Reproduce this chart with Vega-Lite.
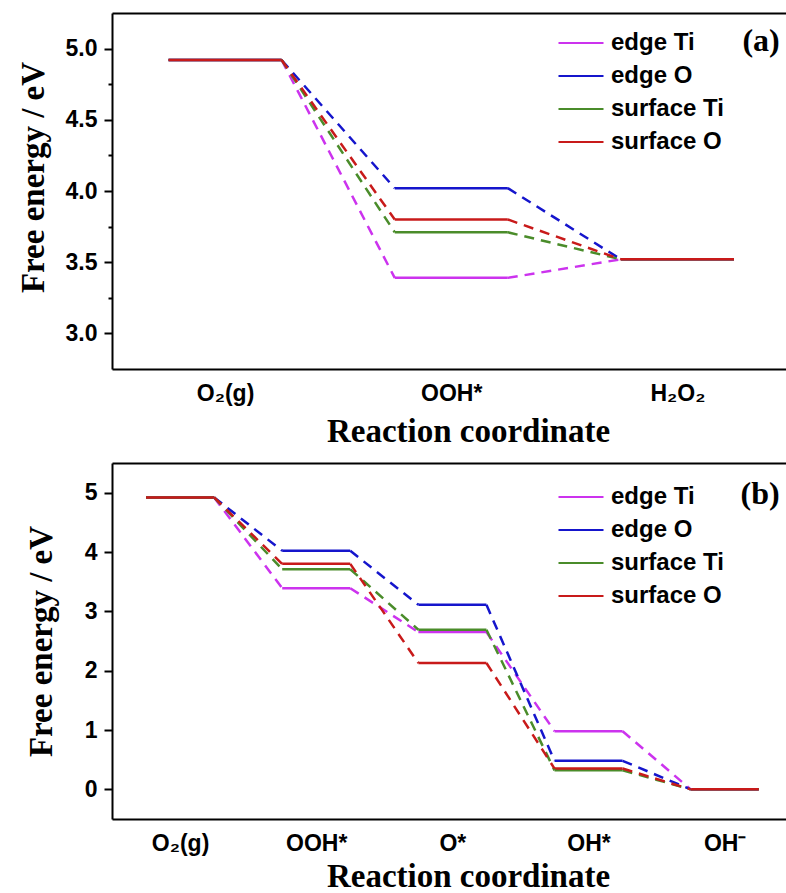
{
  "$schema": "https://vega.github.io/schema/vega-lite/v6.json",
  "padding": {"left": 17, "top": 13, "right": 0, "bottom": 0},
  "spacing": 15,
  "background": "white",
  "config": {
    "view": {"stroke": null},
    "axis": {
      "domainColor": "black", "domainWidth": 2, "tickColor": "black", "tickWidth": 2,
      "labelColor": "black", "labelFont": "Liberation Sans", "labelFontWeight": "bold", "labelFontSize": 23,
      "titleFont": "Liberation Serif", "titleFontWeight": "bold", "titleFontSize": 33, "titleColor": "black",
      "grid": false
    },
    "legend": {
      "orient": "none", "title": null, "padding": 0,
      "symbolType": "M-2.5,0H2.5", "symbolSize": 324, "symbolStrokeWidth": 2,
      "labelFont": "Liberation Sans", "labelFontWeight": "bold", "labelFontSize": 24, "labelColor": "black",
      "labelOffset": 18, "rowPadding": 9
    }
  },
  "resolve": {"scale": {"color": "independent"}, "legend": {"color": "independent"}},
  "datasets": {
    "a": [
      {"series": "edge Ti", "step": 1, "energy": 4.92},
      {"series": "edge Ti", "step": 2, "energy": 3.39},
      {"series": "edge Ti", "step": 3, "energy": 3.52},
      {"series": "edge O", "step": 1, "energy": 4.92},
      {"series": "edge O", "step": 2, "energy": 4.02},
      {"series": "edge O", "step": 3, "energy": 3.52},
      {"series": "surface Ti", "step": 1, "energy": 4.92},
      {"series": "surface Ti", "step": 2, "energy": 3.71},
      {"series": "surface Ti", "step": 3, "energy": 3.52},
      {"series": "surface O", "step": 1, "energy": 4.92},
      {"series": "surface O", "step": 2, "energy": 3.80},
      {"series": "surface O", "step": 3, "energy": 3.52}
    ],
    "b": [
      {"series": "edge Ti", "step": 1, "energy": 4.92},
      {"series": "edge Ti", "step": 2, "energy": 3.39},
      {"series": "edge Ti", "step": 3, "energy": 2.65},
      {"series": "edge Ti", "step": 4, "energy": 0.98},
      {"series": "edge Ti", "step": 5, "energy": 0},
      {"series": "edge O", "step": 1, "energy": 4.92},
      {"series": "edge O", "step": 2, "energy": 4.02},
      {"series": "edge O", "step": 3, "energy": 3.11},
      {"series": "edge O", "step": 4, "energy": 0.48},
      {"series": "edge O", "step": 5, "energy": 0},
      {"series": "surface Ti", "step": 1, "energy": 4.92},
      {"series": "surface Ti", "step": 2, "energy": 3.71},
      {"series": "surface Ti", "step": 3, "energy": 2.69},
      {"series": "surface Ti", "step": 4, "energy": 0.32},
      {"series": "surface Ti", "step": 5, "energy": 0},
      {"series": "surface O", "step": 1, "energy": 4.92},
      {"series": "surface O", "step": 2, "energy": 3.80},
      {"series": "surface O", "step": 3, "energy": 2.13},
      {"series": "surface O", "step": 4, "energy": 0.35},
      {"series": "surface O", "step": 5, "energy": 0}
    ],
    "tagA": [{"label": "(a)"}],
    "tagB": [{"label": "(b)"}]
  },
  "vconcat": [
    {
      "width": 674, "height": 356,
      "resolve": {"axis": {"x": "independent"}},
      "layer": [
        {
          "data": {"name": "a"},
          "transform": [
            {"calculate": "datum.step - 0.25", "as": "xs"},
            {"calculate": "datum.step + 0.25", "as": "xe"}
          ],
          "mark": {"type": "rule", "strokeWidth": 2.5},
          "encoding": {
            "x": {"field": "xs", "type": "quantitative",
              "scale": {"domain": [0.5, 3.48], "nice": false, "zero": false},
              "axis": {"orient": "bottom", "values": [1, 2, 3],
                "labelExpr": "['', 'O₂(g)', 'OOH*', 'H₂O₂'][datum.value]",
                "ticks": false, "labelPadding": 13,
                "title": "Reaction coordinate", "titlePadding": 10, "titleX": 356}},
            "x2": {"field": "xe"},
            "y": {"field": "energy", "type": "quantitative",
              "scale": {"domain": [2.75, 5.25], "nice": false, "zero": false},
              "axis": {"values": [3, 3.25, 3.5, 3.75, 4, 4.25, 4.5, 4.75, 5],
                "labelExpr": "datum.value % 0.5 == 0 ? format(datum.value, '.1f') : ''",
                "tickSize": {"condition": {"test": "datum.value % 0.5 == 0", "value": 8}, "value": 4},
                "labelPadding": 7,
                "title": "Free energy / eV", "titlePadding": 15, "titleY": 164}},
            "color": {"field": "series", "type": "nominal",
              "scale": {"domain": ["edge Ti", "edge O", "surface Ti", "surface O"],
                "range": ["#CC33EE", "#1515CC", "#4A8C2A", "#C81A1A"]},
              "legend": {"legendX": 457, "legendY": 18}}
          }
        },
        {
          "data": {"name": "a"},
          "transform": [
            {"window": [{"op": "lead", "field": "energy", "as": "next"}], "groupby": ["series"], "sort": [{"field": "step", "order": "ascending"}]},
            {"filter": "datum.next != null"},
            {"calculate": "datum.step + 0.25", "as": "cs"},
            {"calculate": "datum.step + 0.75", "as": "ce"}
          ],
          "mark": {"type": "rule", "strokeWidth": 2.5, "strokeDash": [10, 7]},
          "encoding": {
            "x": {"field": "cs", "type": "quantitative",
              "axis": {"orient": "top", "labels": false, "ticks": false, "title": null}},
            "x2": {"field": "ce"},
            "y": {"field": "energy", "type": "quantitative"},
            "y2": {"field": "next"},
            "color": {"field": "series", "type": "nominal"}
          }
        },
        {
          "data": {"name": "tagA"},
          "mark": {"type": "text", "font": "Liberation Serif", "fontWeight": "bold", "fontSize": 32, "align": "center", "baseline": "alphabetic", "color": "black"},
          "encoding": {
            "x": {"datum": 3.37, "type": "quantitative", "axis": null},
            "y": {"datum": 4.98, "type": "quantitative"},
            "text": {"field": "label", "type": "nominal"}
          }
        }
      ]
    },
    {
      "width": 674, "height": 356,
      "resolve": {"axis": {"x": "independent"}},
      "layer": [
        {
          "data": {"name": "b"},
          "transform": [
            {"calculate": "datum.step - 0.25", "as": "xs"},
            {"calculate": "datum.step + 0.25", "as": "xe"}
          ],
          "mark": {"type": "rule", "strokeWidth": 2.5},
          "encoding": {
            "x": {"field": "xs", "type": "quantitative",
              "scale": {"domain": [0.5, 5.45], "nice": false, "zero": false},
              "axis": {"orient": "bottom", "values": [1, 2, 3, 4, 5],
                "labelExpr": "['', 'O₂(g)', 'OOH*', 'O*', 'OH*', 'OH⁻'][datum.value]",
                "ticks": false, "labelPadding": 13,
                "title": "Reaction coordinate", "titlePadding": 5, "titleX": 356}},
            "x2": {"field": "xe"},
            "y": {"field": "energy", "type": "quantitative",
              "scale": {"domain": [-0.5, 5.5], "nice": false, "zero": false},
              "axis": {"values": [0, 0.5, 1, 1.5, 2, 2.5, 3, 3.5, 4, 4.5, 5],
                "labelExpr": "datum.value % 1 == 0 ? format(datum.value, 'd') : ''",
                "tickSize": {"condition": {"test": "datum.value % 1 == 0", "value": 8}, "value": 4},
                "labelPadding": 7,
                "title": "Free energy / eV", "titlePadding": 26}},
            "color": {"field": "series", "type": "nominal",
              "scale": {"domain": ["edge Ti", "edge O", "surface Ti", "surface O"],
                "range": ["#CC33EE", "#1515CC", "#4A8C2A", "#C81A1A"]},
              "legend": {"legendX": 457, "legendY": 22}}
          }
        },
        {
          "data": {"name": "b"},
          "transform": [
            {"window": [{"op": "lead", "field": "energy", "as": "next"}], "groupby": ["series"], "sort": [{"field": "step", "order": "ascending"}]},
            {"filter": "datum.next != null"},
            {"calculate": "datum.step + 0.25", "as": "cs"},
            {"calculate": "datum.step + 0.75", "as": "ce"}
          ],
          "mark": {"type": "rule", "strokeWidth": 2.5, "strokeDash": [10, 7]},
          "encoding": {
            "x": {"field": "cs", "type": "quantitative",
              "axis": {"orient": "top", "labels": false, "ticks": false, "title": null}},
            "x2": {"field": "ce"},
            "y": {"field": "energy", "type": "quantitative"},
            "y2": {"field": "next"},
            "color": {"field": "series", "type": "nominal"}
          }
        },
        {
          "data": {"name": "tagB"},
          "mark": {"type": "text", "font": "Liberation Serif", "fontWeight": "bold", "fontSize": 32, "align": "center", "baseline": "alphabetic", "color": "black"},
          "encoding": {
            "x": {"datum": 5.26, "type": "quantitative", "axis": null},
            "y": {"datum": 4.81, "type": "quantitative"},
            "text": {"field": "label", "type": "nominal"}
          }
        }
      ]
    }
  ]
}
